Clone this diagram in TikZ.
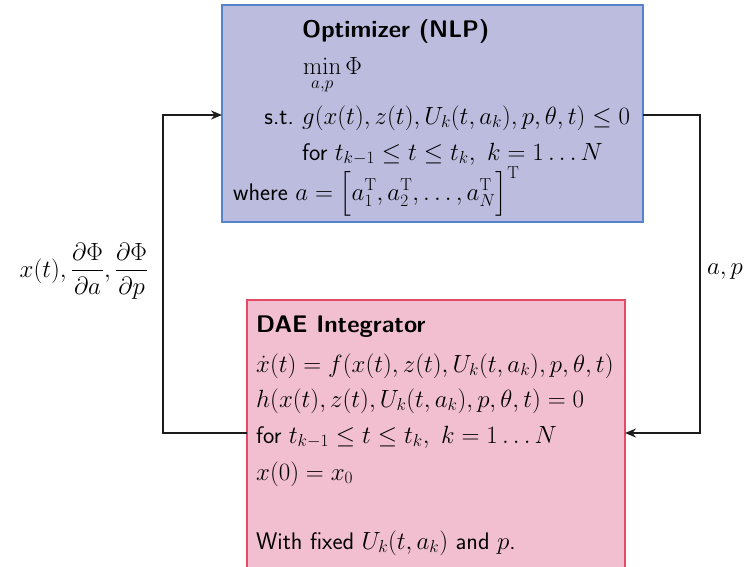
\documentclass[tikz,border=0pt]{standalone}
\usepackage{amsmath}
\usetikzlibrary{arrows.meta}
\definecolor{optfill}{RGB}{188,188,222}
\definecolor{optline}{RGB}{84,132,204}
\definecolor{daefill}{RGB}{242,191,208}
\definecolor{daeline}{RGB}{226,74,104}
\definecolor{wire}{RGB}{28,28,28}
\begin{document}
\begin{tikzpicture}[x=1pt,y=-1pt,
  font=\sffamily\fontsize{24}{28}\selectfont,
  optbox/.style={draw=optline,fill=optfill,line width=1.2pt,inner sep=0pt},
  daebox/.style={draw=daeline,fill=daefill,line width=1.2pt,inner sep=0pt},
  txt/.style={inner sep=0pt,anchor=base west},
  rtxt/.style={inner sep=0pt,anchor=base east},
  wirestyle/.style={draw=wire,line width=1.8pt,-{Stealth[length=11pt,width=9pt]}}]
\useasboundingbox (0,0) rectangle (746,566);

% boxes
\path[optbox] (222,5) rectangle (643,222);
\path[daebox] (247,300) rectangle (625,580);
\coordinate (optW) at (222,115);
\coordinate (optE) at (643,115);
\coordinate (daeW) at (247,433);
\coordinate (daeE) at (625,433);

% optimizer contents
\node[txt] (t1) at (302,37) {\bfseries Optimizer (NLP)};
\node[txt] (t2) at (303,74) {$\displaystyle\min_{a,p}\Phi$};
\node[rtxt] (t3) at (294,124) {s.t.};
\node[txt] (t4) at (302,124) {$g(x(t),z(t),U_k(t,a_k),p,\theta,t)\le 0$};
\node[txt] (t5) at (302,160) {for $t_{k-1}\le t\le t_k,\ k=1\ldots N$};
\node[txt] (t6) at (233,200) {where $a=\Bigl[a_1^{\mathrm T},a_2^{\mathrm T},\ldots,a_N^{\mathrm T}\Bigr]^{\mathrm T}$};

% integrator contents
\node[txt] (d1) at (256,332) {\bfseries DAE Integrator};
\node[txt] (d2) at (256,372) {$\dot x(t)=f(x(t),z(t),U_k(t,a_k),p,\theta,t)$};
\node[txt] (d3) at (256,407) {$h(x(t),z(t),U_k(t,a_k),p,\theta,t)=0$};
\node[txt] (d4) at (256,443) {for $t_{k-1}\le t\le t_k,\ k=1\ldots N$};
\node[txt] (d5) at (256,480) {$x(0)=x_0$};
\node[txt] (d6) at (256,549) {With fixed $U_k(t,a_k)$ and $p$.};

% connectors
\draw[wirestyle] (daeW) -| (163,300) |- (optW);
\draw[wirestyle] (optE) -| (700,300) |- (daeE);

% connector labels
\node[inner sep=0pt] (lL) at (84,271) {$x(t),\dfrac{\partial\Phi}{\partial a},\dfrac{\partial\Phi}{\partial p}$};
\node[inner sep=0pt] (lR) at (725,272) {$a,p$};
\end{tikzpicture}
\end{document}
